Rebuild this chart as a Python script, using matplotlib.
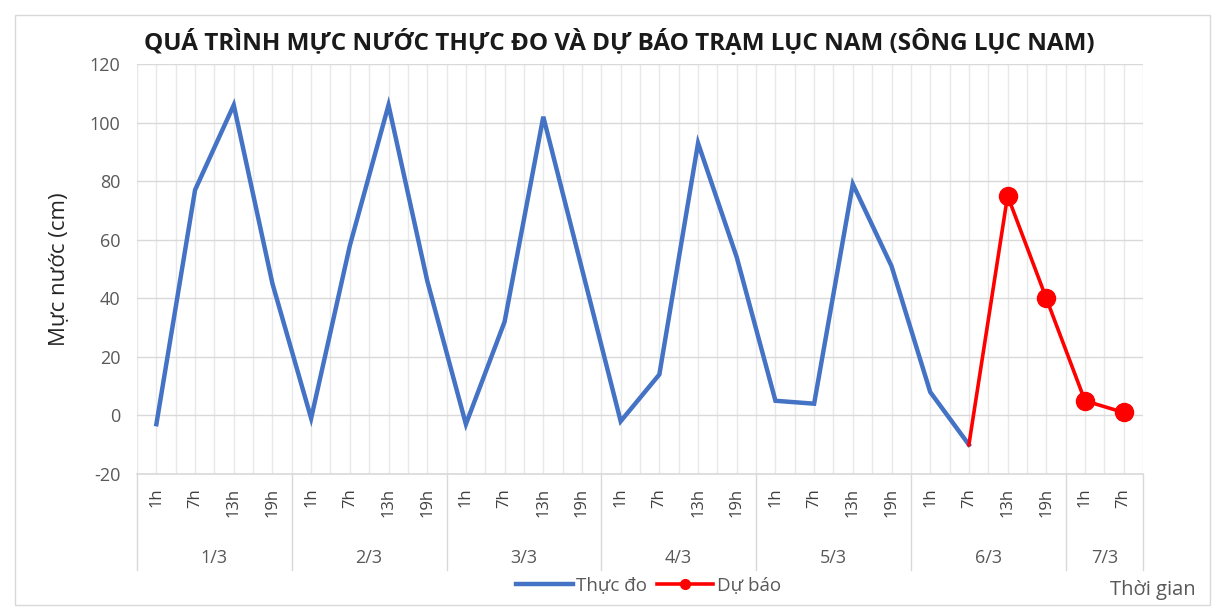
import numpy as np
import matplotlib.pyplot as plt
import matplotlib.transforms as mtransforms
from matplotlib.patches import Rectangle

plt.rcParams['font.family'] = ['Open Sans', 'DejaVu Sans']
plt.rcParams['axes.unicode_minus'] = False

days = ["1/3", "2/3", "3/3", "4/3", "5/3", "6/3", "7/3"]
hours_per_day = [["1h", "7h", "13h", "19h"]] * 6 + [["1h", "7h"]]
hour_labels = [h for day in hours_per_day for h in day]

observed = [-3, 77, 106, 45,
            -1, 58, 106, 46,
            -3, 32, 102, 50,
            -2, 14, 93, 54,
            5, 4, 79, 51,
            8, -10]
forecast = [-10, 75, 40, 5, 1]  # from 6/3 7h onwards

blue = "#4472C4"
red = "#FF0000"
text_grey = "#595959"

fig = plt.figure(figsize=(12.17, 6.10), dpi=100)
fig.patches.append(Rectangle((0.012, 0.008), 0.982, 0.968, transform=fig.transFigure,
                             fill=False, edgecolor="#D9D9D9", lw=1))
ax = fig.add_axes([0.1126, 0.223, 0.8266, 0.672])

n = len(hour_labels)
x = np.arange(n)
x_obs = x[:len(observed)]
x_fc = x[len(observed) - 1:len(observed) - 1 + len(forecast)]

ax.plot(x_obs, observed, color=blue, lw=3.2, label="Thực đo", solid_joinstyle="miter", zorder=3)
ax.plot(x_fc, forecast, color=red, lw=2.6, zorder=4)
ax.plot(x_fc[1:], forecast[1:], color=red, lw=0, marker="o", ms=13, zorder=5)
ax.plot([], [], color=red, lw=2.6, marker="o", ms=7, label="Dự báo")

ax.set_xlim(-0.5, n - 0.5)
ax.set_ylim(-20, 120)
ax.set_yticks(np.arange(-20, 121, 20))

# gridlines: horizontal every 20, vertical every half category
ax.yaxis.grid(True, color="#D9D9D9", lw=1)
for gx in np.arange(-0.5, n, 0.5):
    ax.axvline(gx, color="#E8E8E8", lw=1, zorder=0)
ax.set_axisbelow(True)

for side in ["top", "right", "left"]:
    ax.spines[side].set_visible(False)
ax.spines["bottom"].set_color("#D9D9D9")
ax.spines["bottom"].set_linewidth(1.2)

ax.tick_params(axis="y", length=0, labelsize=13, labelcolor=text_grey, pad=12)
ax.set_xticks(x)
ax.set_xticklabels(hour_labels, rotation=90, fontsize=12, color="#404040")
ax.tick_params(axis="x", length=0, pad=10)

# day labels and separators
trans = mtransforms.blended_transform_factory(ax.transData, ax.transAxes)
start = 0
bounds = [-0.5]
for day, hrs in zip(days, hours_per_day):
    mid = start + (len(hrs) - 1) / 2
    ax.text(mid, -0.205, day, transform=trans, ha="center", va="center",
            fontsize=13, color=text_grey)
    start += len(hrs)
    bounds.append(start - 0.5)
for b in bounds:
    ax.plot([b, b], [0, -0.235], transform=trans, color="#D9D9D9", lw=1, clip_on=False)

ax.set_ylabel("Mực nước (cm)", fontsize=16, color="#262626", labelpad=14)

fig.text(0.509, 0.930, "QUÁ TRÌNH MỰC NƯỚC THỰC ĐO VÀ DỰ BÁO TRẠM LỤC NAM (SÔNG LỤC NAM)",
         ha="center", va="center", fontsize=17.5, fontweight="bold", color="#1A1A1A")

fig.text(0.947, 0.032, "Thời gian", ha="center", va="center", fontsize=14.5, color=text_grey)

leg = ax.legend(loc="center", ncol=2, frameon=False, fontsize=13.5, handlelength=3.0,
                columnspacing=0.5, handletextpad=0.2)
for t in leg.get_texts():
    t.set_color(text_grey)
leg.set_bbox_to_anchor((0.533, 0.04), transform=fig.transFigure)

fig.savefig("out.png", dpi=100)
